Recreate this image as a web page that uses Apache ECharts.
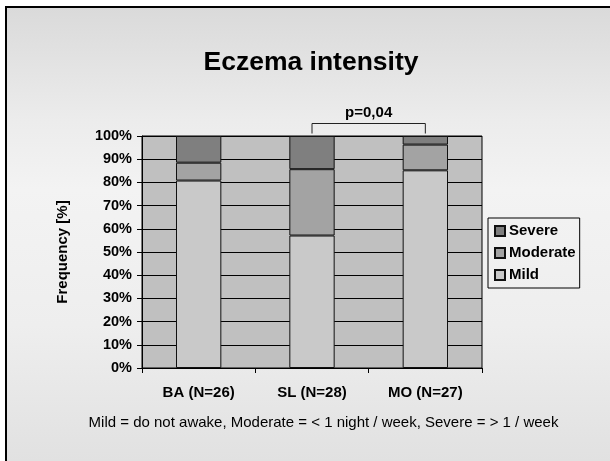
<!DOCTYPE html>
<html><head><meta charset="utf-8">
<script src="https://cdn.jsdelivr.net/npm/echarts@6/dist/echarts.min.js"></script>
<style>
html,body{margin:0;padding:0;background:#fff;overflow:hidden;width:610px;height:461px;}
#frame{position:absolute;left:5px;top:6px;width:605px;height:455px;box-sizing:border-box;border-top:2.5px solid #000;border-left:2.5px solid #000;
background:linear-gradient(to bottom,#dadada 0%,#ececec 25%,#f3f3f3 40%,#eeeeee 70%,#e1e1e1 100%);}
#chart{position:absolute;left:0;top:0;width:610px;height:461px;}
</style></head>
<body><div id="frame"></div><div id="chart"></div>
<script>
var categories = ['BA (N=26)', 'SL (N=28)', 'MO (N=27)'];
var mild = [80.8, 57.1, 85.2];
var moderate = [7.7, 28.6, 11.1];
var severe = [11.5, 14.3, 3.7];
var yTicks = [0, 10, 20, 30, 40, 50, 60, 70, 80, 90, 100];
var titleText = 'Eczema intensity';
var yName = 'Frequency [%]';
var footnote = 'Mild = do not awake, Moderate = < 1 night / week, Severe = > 1 / week';
var pLabel = 'p=0,04';
var pPair = ['SL (N=28)', 'MO (N=27)'];

var FONT = '"Liberation Sans", Arial, sans-serif';
var chart = echarts.init(document.getElementById('chart'), null, {renderer: 'canvas'});
function bar(name, data, color) {
  return {
    name: name, type: 'bar', stack: 'total', data: data, barWidth: '40%',
    itemStyle: {color: color, borderColor: '#111', borderWidth: 1},
    emphasis: {disabled: true}
  };
}
chart.setOption({
  backgroundColor: 'transparent',
  animation: false,
  textStyle: {fontFamily: FONT},
  grid: {left: 142, right: 128, top: 136, bottom: 93, show: true,
    backgroundColor: '#c0c0c0', borderColor: '#000', borderWidth: 1},
  legend: {
    orient: 'vertical', left: 488, top: 218,
    data: ['Severe', 'Moderate', 'Mild'],
    itemWidth: 10, itemHeight: 10, itemGap: 6, icon: 'rect',
    padding: [5, 4, 5, 6],
    borderColor: '#000', borderWidth: 1, backgroundColor: 'transparent',
    textStyle: {fontFamily: FONT, fontWeight: 'bold', fontSize: 15, color: '#000', padding: [0, 0, 0, -1], lineHeight: 16},
    selectedMode: false
  },
  xAxis: {
    type: 'category', data: categories,
    axisLine: {lineStyle: {color: '#000', width: 1}},
    axisTick: {show: true, length: 5, alignWithLabel: false, lineStyle: {color: '#000'}},
    axisLabel: {fontFamily: FONT, fontWeight: 'bold', fontSize: 15, color: '#000', margin: 17}
  },
  yAxis: {
    type: 'value', min: yTicks[0], max: yTicks[yTicks.length - 1], interval: yTicks[1] - yTicks[0],
    name: yName, nameLocation: 'middle', nameRotate: 90, nameGap: 72,
    nameTextStyle: {fontFamily: FONT, fontWeight: 'bold', fontSize: 15, color: '#000'},
    axisLine: {show: true, lineStyle: {color: '#000', width: 1}},
    axisTick: {show: true, length: 5, lineStyle: {color: '#000'}},
    axisLabel: {formatter: '{value}%', fontFamily: FONT, fontWeight: 'bold', fontSize: 14.5, color: '#000', margin: 10},
    splitLine: {show: true, lineStyle: {color: '#000', width: 1}}
  },
  series: [
    bar('Mild', mild, '#c9c9c9'),
    bar('Moderate', moderate, '#a3a3a3'),
    bar('Severe', severe, '#7f7f7f')
  ]
});

var x1 = chart.convertToPixel({xAxisIndex: 0}, pPair[0]);
var x2 = chart.convertToPixel({xAxisIndex: 0}, pPair[1]);
var yTop = chart.convertToPixel({yAxisIndex: 0}, yTicks[yTicks.length - 1]);
chart.setOption({
  graphic: [
    {type: 'text', x: 311, y: 63, style: {text: titleText, font: 'bold 26.5px ' + FONT, fill: '#000', align: 'center', verticalAlign: 'middle'}, silent: true},
    {type: 'polyline', shape: {points: [[x1, yTop - 2.5], [x1, yTop - 12.5], [x2, yTop - 12.5], [x2, yTop - 2.5]]},
      style: {stroke: '#222', lineWidth: 1, fill: null}, silent: true},
    {type: 'text', x: (x1 + x2) / 2, y: yTop - 23, style: {text: pLabel, font: 'bold 15px ' + FONT, fill: '#000', align: 'center', verticalAlign: 'middle'}, silent: true},
    {type: 'text', x: 323.5, y: 423, style: {text: footnote, font: '15px ' + FONT, fill: '#000', align: 'center', verticalAlign: 'middle'}, silent: true}
  ]
});
</script></body></html>
